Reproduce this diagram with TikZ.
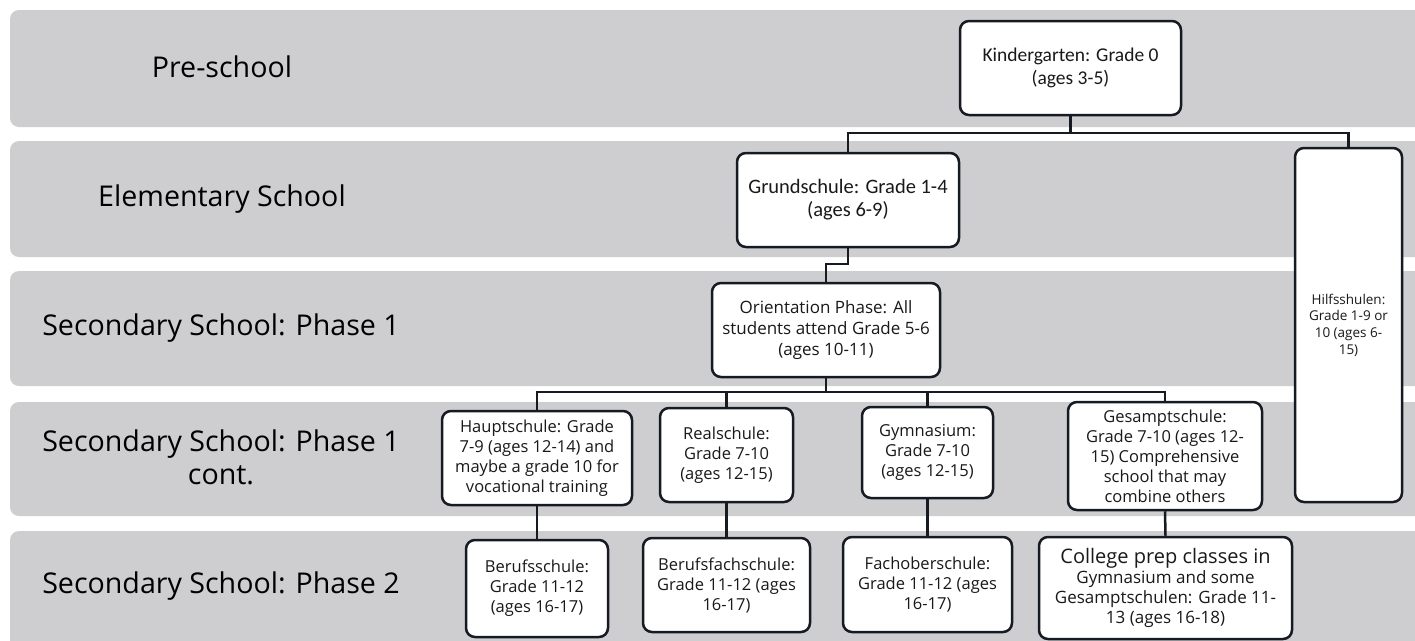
\documentclass[tikz,border=0pt]{standalone}
\usepackage{fontspec}
\setmainfont{Open Sans}
\newfontfamily\narrowfont{Carlito}
\definecolor{bandgray}{RGB}{206,206,209}
\definecolor{linec}{RGB}{22,26,34}
\definecolor{txt}{RGB}{25,25,25}
\tikzset{
  band/.style={fill=bandgray, rounded corners=9pt},
  rowlabel/.style={text=black, align=center, font=\fontsize{28.6}{33}\selectfont},
  box/.style={draw=linec, line width=2.5pt, fill=white, rounded corners=9pt,
    inner sep=0pt, align=center, text=txt, font=\fontsize{16.5}{20}\selectfont},
  nbox/.style={box, font=\narrowfont\fontsize{19.5}{23}\selectfont},
  conn/.style={draw=linec, line width=2.5pt}
}
\begin{document}
\begin{tikzpicture}[x=1pt,y=-1pt]
\useasboundingbox (0,0) rectangle (1415,640);
\clip (0,0) rectangle (1415,640);
\fill[white] (0,0) rectangle (1415,640);
% bands
\fill[band] (10,10) rectangle (1450,127);
\fill[band] (10,141) rectangle (1450,257);
\fill[band] (10,271) rectangle (1450,386);
\fill[band] (10,402) rectangle (1450,516);
\fill[band] (10,531) rectangle (1450,670);
% row labels
\node[rowlabel] (l1) at (222,67) {Pre-school};
\node[rowlabel] (l2) at (222,199) {Elementary School};
\node[rowlabel] (l3) at (221,328) {Secondary School: Phase 1};
\node[rowlabel] (l4) at (221,457) {Secondary School: Phase 1\\cont.};
\node[rowlabel] (l5) at (221,586) {Secondary School: Phase 2};
% boxes
\node[nbox, minimum width=221pt, minimum height=94pt] (kg) at (1070.5,68) {Kindergarten: Grade 0\\(ages 3-5)};
\node[nbox, minimum width=222pt, minimum height=94pt, font=\narrowfont\fontsize{20.5}{23}\selectfont] (gs) at (848,200) {Grundschule: Grade 1-4\\(ages 6-9)};
\node[box, minimum width=107pt, minimum height=354pt, font=\fontsize{13.5}{16.7}\selectfont] (hs) at (1348.5,325) {Hilfsshulen:\\Grade 1-9 or\\10 (ages 6-\\15)};
\node[box, minimum width=228pt, minimum height=94pt, font=\fontsize{17}{21}\selectfont] (or) at (826,330) {Orientation Phase: All\\students attend Grade 5-6\\(ages 10-11)};
\node[box, minimum width=190pt, minimum height=94pt] (haupt) at (537,458) {Hauptschule: Grade\\7-9 (ages 12-14) and\\maybe a grade 10 for\\vocational training};
\node[box, minimum width=133pt, minimum height=94pt] (real) at (726.5,455) {Realschule:\\Grade 7-10\\(ages 12-15)};
\node[box, minimum width=131pt, minimum height=91pt] (gym) at (927.5,452.5) {Gymnasium:\\Grade 7-10\\(ages 12-15)};
\node[box, minimum width=194pt, minimum height=108pt] (gesamt) at (1165,456) {Gesamptschule:\\Grade 7-10 (ages 12-\\15) Comprehensive\\school that may\\combine others};
\node[box, minimum width=142pt, minimum height=97pt] (beruf) at (537,588.5) {Berufsschule:\\Grade 11-12\\(ages 16-17)};
\node[box, minimum width=167pt, minimum height=94pt] (berfach) at (726.5,585) {Berufsfachschule:\\Grade 11-12 (ages\\16-17)};
\node[box, minimum width=169pt, minimum height=95pt] (fach) at (927.5,584.5) {Fachoberschule:\\Grade 11-12 (ages\\16-17)};
\node[box, minimum width=253pt, minimum height=102pt, font=\fontsize{17}{20}\selectfont] (college) at (1165.5,588) {{\fontsize{20}{23}\selectfont College prep classes in}\\Gymnasium and some\\Gesamptschulen: Grade 11-\\13 (ages 16-18)};
% bus coordinates
\coordinate (bus1) at (0,133);
\coordinate (bus2) at (0,264);
\coordinate (bus3) at (0,392);
% connectors
\draw[conn] (kg.south) -- (kg.south |- bus1) -| (gs.north);
\draw[conn] (kg.south |- bus1) -| (hs.north);
\draw[conn] (gs.south) -- (gs.south |- bus2) -| (or.north);
\draw[conn] (or.south) -- (or.south |- bus3) -| (haupt.north);
\draw[conn] (or.south |- bus3) -| (real.north);
\draw[conn] (or.south |- bus3) -| (gym.north);
\draw[conn] (or.south |- bus3) -| (gesamt.north);
\draw[conn] (haupt.south) -- (beruf.north);
\draw[conn] (real.south) -- (berfach.north);
\draw[conn] (gym.south) -- (fach.north);
\draw[conn] (gesamt.south) -- (college.north);
\end{tikzpicture}
\end{document}
